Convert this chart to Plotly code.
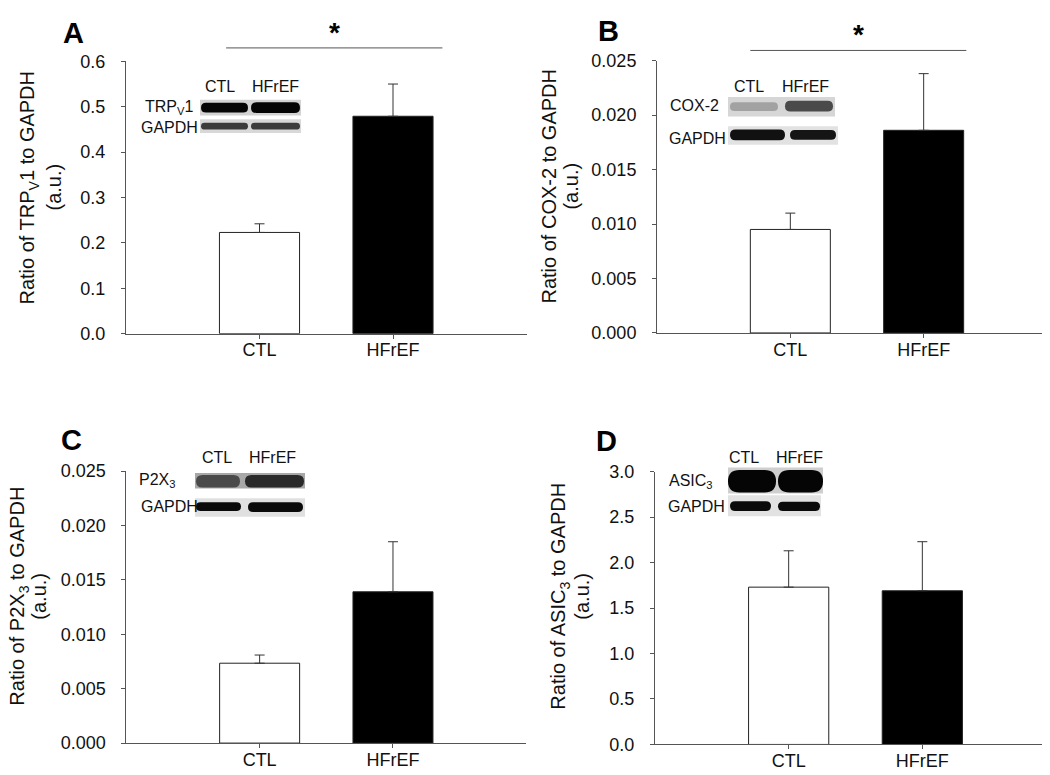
import plotly.graph_objects as go

W, H = 1050, 775

# ---------------- data ----------------
categories = ["CTL", "HFrEF"]
x_pos = [1, 2]

trpv1_mean = [0.223, 0.479]
trpv1_sem = [0.019, 0.071]

cox2_mean = [0.0095, 0.0186]
cox2_sem = [0.0015, 0.0052]

p2x3_mean = [0.00734, 0.0139]
p2x3_sem = [0.00075, 0.0046]

asic3_mean = [1.73, 1.69]
asic3_sem = [0.40, 0.54]

trpv1_ticks = [0.0, 0.1, 0.2, 0.3, 0.4, 0.5, 0.6]
cox2_ticks = [0.000, 0.005, 0.010, 0.015, 0.020, 0.025]
p2x3_ticks = [0.000, 0.005, 0.010, 0.015, 0.020, 0.025]
asic3_ticks = [0.0, 0.5, 1.0, 1.5, 2.0, 2.5, 3.0]

bar_colors = ["white", "black"]

FONT = "Liberation Sans, Arial, sans-serif"
AX = "#555555"


def px(x, y):
    return x / W, 1 - y / H


panels = [
    dict(mean=trpv1_mean, sem=trpv1_sem, ticks=trpv1_ticks, fmt=".1f",
         xd=(118, 518.5), yd=(324, 44.5),
         title="Ratio of TRP<sub>V</sub>1 to GAPDH", letter="A", lp=(65, 15),
         t1=(21, 174), t2=(46, 174)),
    dict(mean=cox2_mean, sem=cox2_sem, ticks=cox2_ticks, fmt=".3f",
         xd=(649, 1049), yd=(323.3, 43.7),
         title="Ratio of COX-2 to GAPDH", letter="B", lp=(600, 13),
         t1=(541, 173), t2=(563, 173)),
    dict(mean=p2x3_mean, sem=p2x3_sem, ticks=p2x3_ticks, fmt=".3f",
         xd=(118.3, 518.3), yd=(744.3, 465),
         title="Ratio of P2X<sub>3</sub> to GAPDH", letter="C", lp=(63, 433),
         t1=(11, 594), t2=(31, 594)),
    dict(mean=asic3_mean, sem=asic3_sem, ticks=asic3_ticks, fmt=".1f",
         xd=(647, 1048), yd=(745.7, 465.7),
         title="Ratio of ASIC<sub>3</sub> to GAPDH", letter="D", lp=(598, 434),
         t1=(552, 594), t2=(574, 594)),
]

fig = go.Figure()
layout = dict(
    width=W, height=H, margin=dict(l=0, r=0, t=0, b=0),
    paper_bgcolor="white", plot_bgcolor="white",
    showlegend=False, font=dict(family=FONT, color="#111111"),
)
annotations = []
shapes = []

for i, p in enumerate(panels):
    n = "" if i == 0 else str(i + 1)
    fig.add_trace(go.Bar(
        x=x_pos, y=p["mean"], width=0.6,
        marker=dict(color=bar_colors, line=dict(color="#222222", width=1)),
        error_y=dict(type="data", symmetric=False, array=p["sem"],
                     arrayminus=[0, 0], color="#333333", thickness=1, width=5),
        xaxis="x" + n, yaxis="y" + n,
    ))
    x0, x1 = p["xd"]
    yb, yt = p["yd"]
    layout["xaxis" + n] = dict(
        domain=[x0 / W, x1 / W], range=[0, 3], anchor="y" + n,
        tickvals=x_pos, ticktext=categories, showline=True, linecolor=AX,
        linewidth=1, ticks="outside", ticklen=4, tickcolor=AX,
        showgrid=False, zeroline=False, fixedrange=True,
        tickfont=dict(size=18, family=FONT, color="#111111"),
        ticklabelstandoff=-4,
    )
    layout["yaxis" + n] = dict(
        domain=[1 - yb / H, 1 - yt / H],
        range=[p["ticks"][0], p["ticks"][-1]], anchor="x" + n,
        tickvals=p["ticks"], tickformat=p["fmt"], showline=True,
        linecolor=AX, linewidth=1, ticks="outside", ticklen=4,
        tickcolor=AX, showgrid=False, zeroline=False, fixedrange=True,
        tickfont=dict(size=18, family=FONT, color="#111111"),
        ticklabelstandoff=12,
    )
    lx, ly = px(*p["lp"])
    annotations.append(dict(x=lx, y=ly, xref="paper", yref="paper",
                            text="<b>%s</b>" % p["letter"], showarrow=False,
                            font=dict(size=29, family=FONT, color="black"),
                            xanchor="center", yanchor="middle"))
    for txt, pos in ((p["title"], p["t1"]), ("(a.u.)", p["t2"])):
        ax_, ay_ = px(*pos)
        annotations.append(dict(x=ax_, y=ay_, xref="paper", yref="paper",
                                text=txt, showarrow=False, textangle=-90,
                                font=dict(size=20, family=FONT, color="#111111"),
                                xanchor="center", yanchor="middle"))

# ---------------- significance bars (panels A, B) ----------------
sig_lines = [
    dict(xref="x", x=[0.75, 2.37], ypx=30.7, star_ypx=15),
    dict(xref="x2", x=[0.70, 2.32], ypx=33.3, star_ypx=17),
]
for s in sig_lines:
    yy = 1 - s["ypx"] / H
    shapes.append(dict(type="line", xref=s["xref"], yref="paper",
                       x0=s["x"][0], x1=s["x"][1], y0=yy, y1=yy,
                       line=dict(color=AX, width=1)))
    annotations.append(dict(xref=s["xref"], yref="paper",
                            x=(s["x"][0] + s["x"][1]) / 2,
                            y=1 - s["star_ypx"] / H, text="<b>*</b>",
                            showarrow=False, font=dict(size=28, family=FONT, color="black"),
                            xanchor="center", yanchor="middle"))


# ---------------- western blot insets (decorative) ----------------
def rect(x0, y0, x1, y1, color):
    a0, b0 = px(x0, y0)
    a1, b1 = px(x1, y1)
    shapes.append(dict(type="rect", xref="paper", yref="paper", x0=a0, x1=a1,
                       y0=b1, y1=b0, fillcolor=color, line=dict(width=0),
                       layer="above"))


def band(x0, y0, x1, y1, color):
    r = (y1 - y0) / 2.0
    a0, _ = px(x0, 0)
    a1, _ = px(x1, 0)
    ar, _ = px(r, 0)
    _, btop = px(0, y0)
    _, bbot = px(0, y1)
    bmid = (btop + bbot) / 2
    path = ("M %f,%f L %f,%f Q %f,%f %f,%f Q %f,%f %f,%f L %f,%f Q %f,%f %f,%f Q %f,%f %f,%f Z"
            % (a0 + ar, btop, a1 - ar, btop,
               a1, btop, a1, bmid, a1, bbot, a1 - ar, bbot,
               a0 + ar, bbot, a0, bbot, a0, bmid, a0, btop, a0 + ar, btop))
    shapes.append(dict(type="path", xref="paper", yref="paper", path=path,
                       fillcolor=color, line=dict(width=0), layer="above"))


def label(x, y, text, size=14):
    a, b = px(x, y)
    annotations.append(dict(x=a, y=b, xref="paper", yref="paper", text=text,
                            showarrow=False, xanchor="center", yanchor="middle",
                            font=dict(size=size, family=FONT, color="#111111")))


blots = [
    dict(cols=[(212, 70), (267, 70)],
         rows=[("TRP<sub>V</sub>1", (161, 92)), ("GAPDH", (161, 112))],
         bgs=[(192, 84, 293, 100, "#d2d2d2"), (192, 104, 293, 118, "#d8d8d8")],
         bands=[(193, 87, 240, 97, "#050505"), (243, 86.5, 292, 97.5, "#050505"),
                (193, 107.5, 240, 114.5, "#3c3c3c"), (243, 107.5, 292, 114.5, "#3c3c3c")]),
    dict(cols=[(741, 70), (797, 70)],
         rows=[("COX-2", (686, 90)), ("GAPDH", (689, 124))],
         bgs=[(720, 81, 827, 101, "#d6d6d6"), (720, 111, 830, 130, "#e2e2e2")],
         bands=[(722, 86.5, 770, 95.5, "#a2a2a2"), (777, 85, 825, 96, "#4a4a4a"),
                (722, 114.5, 777, 125.5, "#111111"), (782, 115, 828, 125, "#151515")]),
    dict(cols=[(209, 451), (264, 451)],
         rows=[("P2X<sub>3</sub>", (149, 475)), ("GAPDH", (161, 501))],
         bgs=[(187, 467, 297, 483, "#a8a8a8"), (187, 493, 297, 512, "#e0e0e0")],
         bands=[(188, 469, 232, 482, "#4a4a4a"), (237, 469, 296, 482, "#2a2a2a"),
                (188, 497, 233, 506, "#0a0a0a"), (240, 497, 295, 507, "#0a0a0a")]),
    dict(cols=[(736, 451), (791, 451)],
         rows=[("ASIC<sub>3</sub>", (683, 476)), ("GAPDH", (688, 501))],
         bgs=[(720, 461.5, 815, 488, "#cfcfcf"), (720, 490, 813, 511.5, "#e2e2e2")],
         bands=[(720, 464, 768, 487, "#050505"), (770, 464, 815, 487, "#050505"),
                (722, 496, 763, 506, "#0a0a0a"), (770, 496.5, 812, 506, "#0a0a0a")]),
]

for b in blots:
    for (x, y), t in zip(b["cols"], categories):
        label(x, y, t, 16)
    for t, (x, y) in b["rows"]:
        label(x, y, t, 16)
    for bg in b["bgs"]:
        rect(*bg)
    for bd in b["bands"]:
        band(*bd)

layout["annotations"] = annotations
layout["shapes"] = shapes
fig.update_layout(**layout)
fig.write_html("out.html")
